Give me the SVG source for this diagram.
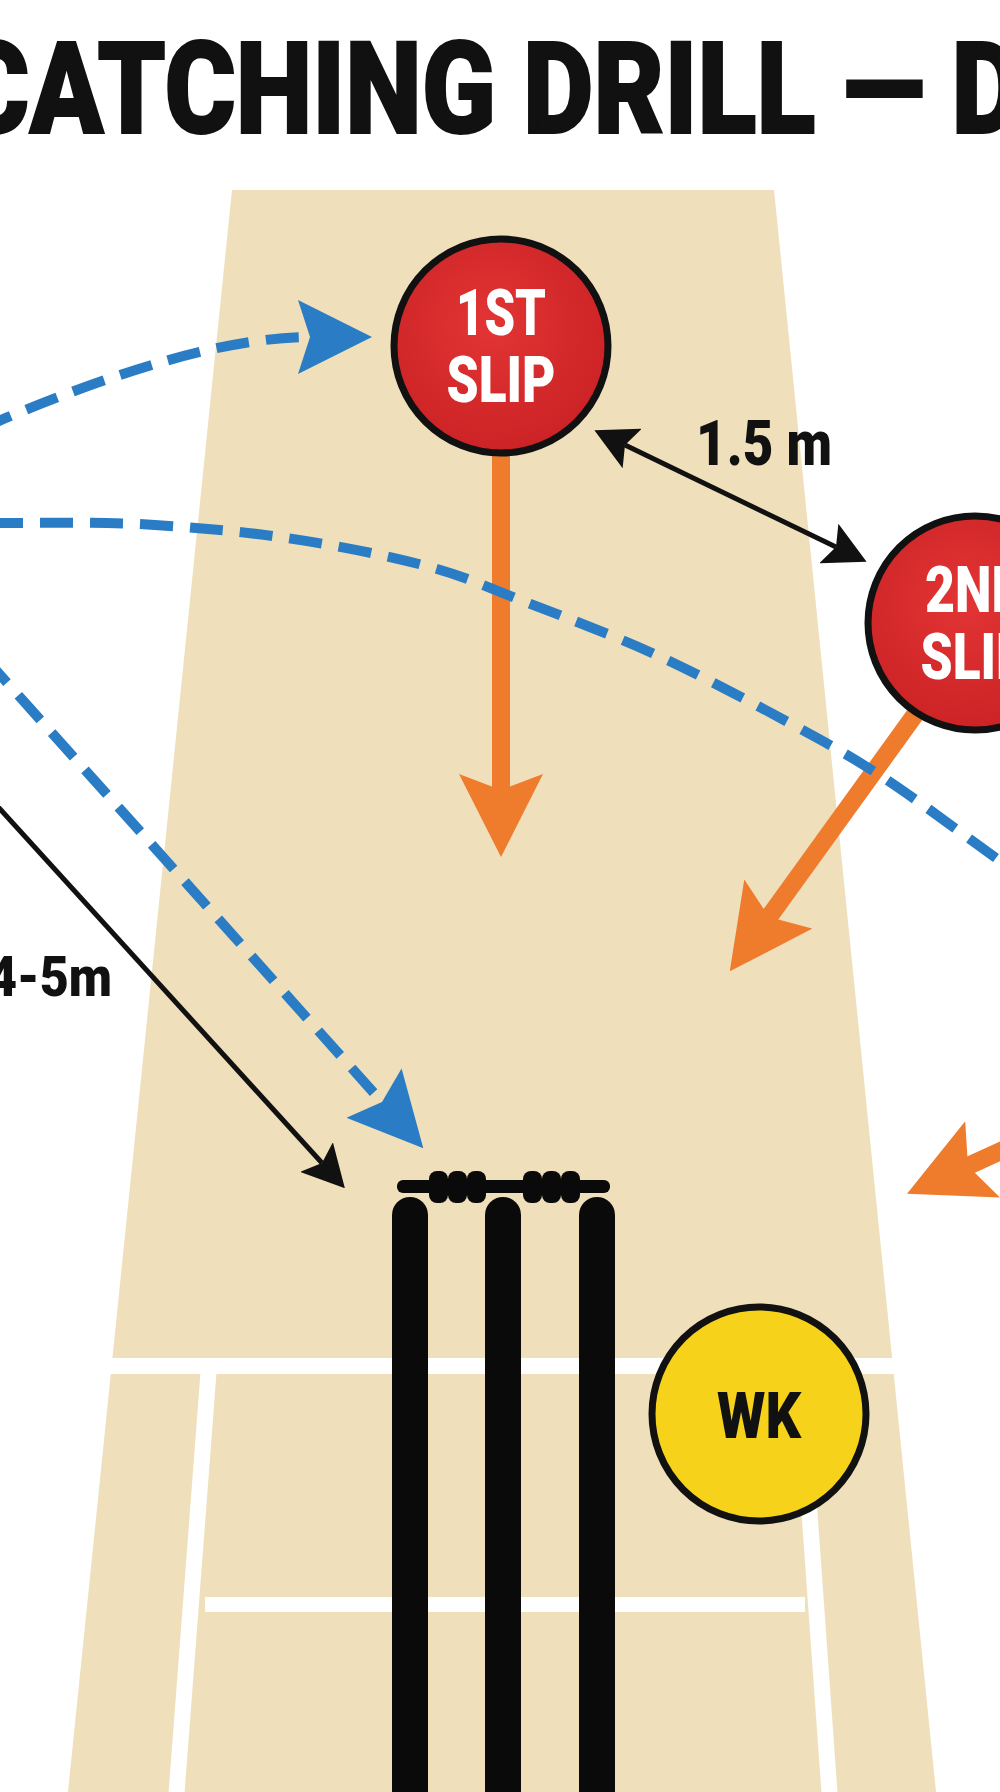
<svg xmlns="http://www.w3.org/2000/svg" width="1000" height="1792" viewBox="0 0 1000 1792">
  <style>
    .title { font-family: Roboto, "Liberation Sans", sans-serif; font-weight: 900; font-size: 128px; fill: #111; stroke: #111; stroke-width: 2; }
    .lbl { font-family: Roboto, "Liberation Sans", sans-serif; font-weight: 900; font-size: 64px; text-anchor: middle; }
    .white { fill: #fff; }
    .dark { fill: #111; }
    .dim { font-family: Roboto, "Liberation Sans", sans-serif; font-weight: 900; fill: #111; }
    .slip { fill: url(#redGrad); stroke: #111; stroke-width: 7; }
    .wk { fill: #F6D31A; stroke: #111; stroke-width: 7; }
    .crease { stroke: #fff; stroke-width: 16; fill: none; }
    .stump { fill: #0a0a0a; }
    .blue { fill: none; stroke: #2A7DC4; stroke-width: 10; stroke-dasharray: 33 17; }
    .orange { fill: none; stroke: #EF7B2C; stroke-width: 18; }
    .black { fill: none; stroke: #111; stroke-width: 5; }
  </style>
  <defs>
    <radialGradient id="redGrad" cx="0.45" cy="0.4" r="0.6">
      <stop offset="0" stop-color="#E23434"/>
      <stop offset="1" stop-color="#CC2326"/>
    </radialGradient>
    <marker id="arrowBlue" markerUnits="userSpaceOnUse" viewBox="0 -37 74 74" markerWidth="74" markerHeight="74" refX="12" refY="0" orient="auto">
      <path d="M0,-37 L74,0 L0,37 L12,0 Z" fill="#2A7DC4"/>
    </marker>
    <marker id="arrowOrange" markerUnits="userSpaceOnUse" viewBox="0 -42 83 84" markerWidth="83" markerHeight="84" refX="16" refY="0" orient="auto">
      <path d="M0,-42 L83,0 L0,42 L16,0 Z" fill="#EF7B2C"/>
    </marker>
    <marker id="arrowBlack" markerUnits="userSpaceOnUse" viewBox="0 -22 42 44" markerWidth="42" markerHeight="44" refX="8" refY="0" orient="auto-start-reverse">
      <path d="M0,-22 L42,0 L0,22 L8,0 Z" fill="#111"/>
    </marker>
  </defs>

  <rect x="0" y="0" width="1000" height="1792" fill="#FFFFFF"/>

  <text id="title" class="title" x="-42" y="133" textLength="1064" lengthAdjust="spacingAndGlyphs">CATCHING DRILL — D</text>

  <g id="pitch">
    <polygon points="232,190 774,190 936,1792 68,1792" fill="#EFDFBB"/>
    <rect x="110" y="1358" width="784" height="16" fill="#fff"/>
    <line class="crease" x1="209" y1="1366" x2="176" y2="1800"/>
    <line class="crease" x1="799" y1="1366" x2="830" y2="1800"/>
    <rect x="205" y="1597" width="600" height="15" fill="#fff"/>
  </g>

  <g id="stumps">
    <rect class="stump" x="392" y="1197" width="36" height="620" rx="18"/>
    <rect class="stump" x="485" y="1197" width="36" height="620" rx="18"/>
    <rect class="stump" x="579" y="1197" width="36" height="620" rx="18"/>
    <rect class="stump" x="397" y="1180" width="213" height="13" rx="6"/>
    <rect class="stump" x="429" y="1171" width="19" height="32" rx="8"/>
    <rect class="stump" x="448" y="1171" width="19" height="32" rx="8"/>
    <rect class="stump" x="467" y="1171" width="19" height="32" rx="8"/>
    <rect class="stump" x="523" y="1171" width="19" height="32" rx="8"/>
    <rect class="stump" x="542" y="1171" width="19" height="32" rx="8"/>
    <rect class="stump" x="561" y="1171" width="19" height="32" rx="8"/>
  </g>

  <g id="connectors">
    <path class="orange" d="M501,440 L501,790" marker-end="url(#arrowOrange)"/>
    <path class="orange" d="M922,705 L769,917" marker-end="url(#arrowOrange)"/>
    <path class="orange" d="M1100,1106 L968,1166" marker-end="url(#arrowOrange)"/>
    <path class="black" d="M-20,787 L322,1163" marker-end="url(#arrowBlack)"/>
    <path class="black" stroke-width="6" d="M625,445 L836,547" marker-start="url(#arrowBlack)" marker-end="url(#arrowBlack)"/>
    <path class="blue" d="M-20,429 Q193,337 310,337" marker-end="url(#arrowBlue)"/>
    <path class="blue" d="M-10,523 C40,523 90,522 140,524 C190,527 239,531 287,538 C335,545 390,556 430,567 C470,578 489,588 528,603 C567,618 618,637 663,658 C708,679 760,707 797,727 C834,747 852,757 887,780 C923,804 969,839 1010,868"/>
    <path class="blue" d="M-15,658 L382,1102" marker-end="url(#arrowBlue)"/>
    <text class="dim" x="696" y="465" font-size="63" textLength="136" lengthAdjust="spacingAndGlyphs">1.5 m</text>
    <text class="dim" x="-12" y="996" font-size="56" textLength="124" lengthAdjust="spacingAndGlyphs">4-5m</text>
  </g>

  <g id="node-1st-slip">
    <circle class="slip" cx="501" cy="346" r="107"/>
    <text class="lbl white" x="501" y="335" textLength="90" lengthAdjust="spacingAndGlyphs">1ST</text>
    <text class="lbl white" x="501" y="402" textLength="109" lengthAdjust="spacingAndGlyphs">SLIP</text>
  </g>

  <g id="node-2nd-slip">
    <circle class="slip" cx="975" cy="623" r="107"/>
    <text class="lbl white" x="975" y="612" textLength="100" lengthAdjust="spacingAndGlyphs">2ND</text>
    <text class="lbl white" x="975" y="679" textLength="109" lengthAdjust="spacingAndGlyphs">SLIP</text>
  </g>

  <g id="node-wk">
    <circle class="wk" cx="759" cy="1414" r="107"/>
    <text class="lbl dark" x="759" y="1438" textLength="84" lengthAdjust="spacingAndGlyphs">WK</text>
  </g>
</svg>
